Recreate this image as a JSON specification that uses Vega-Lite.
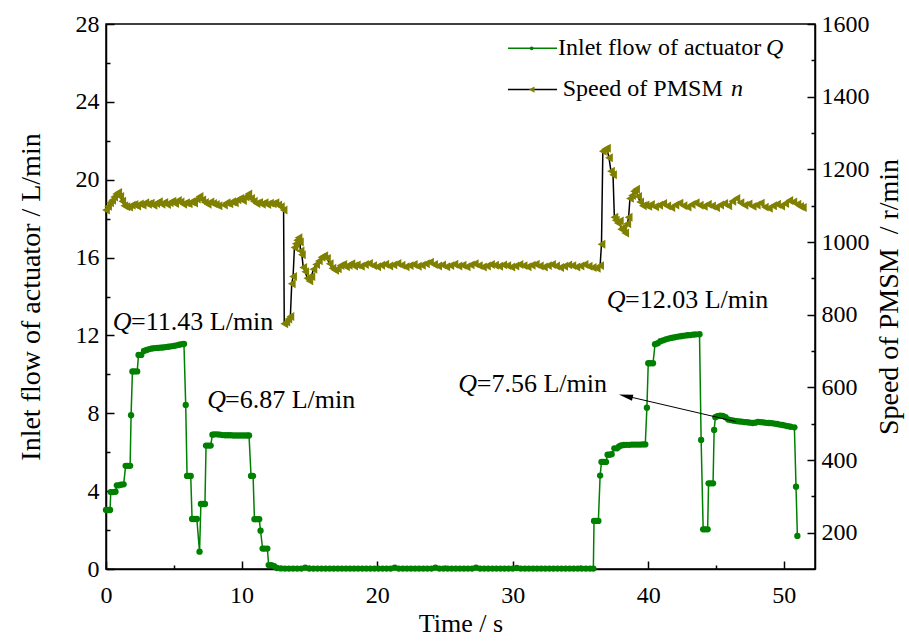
{
  "$schema": "https://vega.github.io/schema/vega-lite/v6.json",
  "width": 709,
  "height": 545,
  "autosize": {"type": "none"},
  "padding": {"left": 106, "top": 24, "right": 94, "bottom": 73},
  "background": "white",
  "config": {
    "view": {"stroke": "black", "strokeWidth": 1.5},
    "font": "Liberation Serif",
    "axis": {
      "grid": false,
      "domainColor": "black",
      "domainWidth": 1.5,
      "tickColor": "black",
      "tickWidth": 1.5,
      "labelFont": "Liberation Serif",
      "labelFontSize": 24,
      "labelColor": "black",
      "titleFont": "Liberation Serif",
      "titleFontSize": 28,
      "titleFontWeight": "normal",
      "titleColor": "black"
    }
  },
  "datasets": {
    "flow": [
      {"t": 0.0, "Q": 3.03}, {"t": 0.15, "Q": 3.03}, {"t": 0.3, "Q": 3.03},
      {"t": 0.35, "Q": 3.95}, {"t": 0.5, "Q": 3.95}, {"t": 0.7, "Q": 3.97},
      {"t": 0.8, "Q": 4.3}, {"t": 0.95, "Q": 4.3}, {"t": 1.1, "Q": 4.33}, {"t": 1.3, "Q": 4.35},
      {"t": 1.45, "Q": 5.3}, {"t": 1.6, "Q": 5.3}, {"t": 1.78, "Q": 5.3},
      {"t": 1.85, "Q": 7.9},
      {"t": 1.95, "Q": 10.15}, {"t": 2.1, "Q": 10.15}, {"t": 2.3, "Q": 10.15},
      {"t": 2.4, "Q": 11.0}, {"t": 2.6, "Q": 11.0}, {"t": 2.8, "Q": 11.2},
      {"t": 3.0, "Q": 11.25}, {"t": 3.2, "Q": 11.3}, {"t": 3.4, "Q": 11.33}, {"t": 3.6, "Q": 11.35},
      {"t": 3.8, "Q": 11.36}, {"t": 4.0, "Q": 11.37}, {"t": 4.2, "Q": 11.38}, {"t": 4.4, "Q": 11.4},
      {"t": 4.6, "Q": 11.42}, {"t": 4.8, "Q": 11.44}, {"t": 5.0, "Q": 11.46}, {"t": 5.2, "Q": 11.49},
      {"t": 5.4, "Q": 11.52}, {"t": 5.6, "Q": 11.55}, {"t": 5.75, "Q": 11.56},
      {"t": 5.88, "Q": 8.43},
      {"t": 5.98, "Q": 4.78}, {"t": 6.1, "Q": 4.78}, {"t": 6.25, "Q": 4.78},
      {"t": 6.35, "Q": 2.57}, {"t": 6.5, "Q": 2.57}, {"t": 6.7, "Q": 2.57},
      {"t": 6.9, "Q": 0.89},
      {"t": 7.0, "Q": 3.34}, {"t": 7.15, "Q": 3.34}, {"t": 7.3, "Q": 3.34},
      {"t": 7.38, "Q": 6.34}, {"t": 7.55, "Q": 6.34}, {"t": 7.72, "Q": 6.34},
      {"t": 7.85, "Q": 6.9}, {"t": 8.0, "Q": 6.92}, {"t": 8.2, "Q": 6.92}, {"t": 8.4, "Q": 6.9},
      {"t": 8.6, "Q": 6.88}, {"t": 8.8, "Q": 6.87}, {"t": 9.0, "Q": 6.87}, {"t": 9.2, "Q": 6.87},
      {"t": 9.4, "Q": 6.86}, {"t": 9.6, "Q": 6.86}, {"t": 9.8, "Q": 6.86}, {"t": 10.0, "Q": 6.86},
      {"t": 10.2, "Q": 6.86}, {"t": 10.4, "Q": 6.86}, {"t": 10.55, "Q": 6.86},
      {"t": 10.7, "Q": 4.78}, {"t": 10.85, "Q": 4.78},
      {"t": 10.95, "Q": 2.56}, {"t": 11.1, "Q": 2.56}, {"t": 11.3, "Q": 2.56},
      {"t": 11.4, "Q": 1.97},
      {"t": 11.55, "Q": 1.05}, {"t": 11.7, "Q": 1.05}, {"t": 11.9, "Q": 1.05},
      {"t": 12.0, "Q": 0.2}, {"t": 12.2, "Q": 0.2}, {"t": 12.4, "Q": 0.15},
      {"t": 12.6, "Q": 0.05}, {"t": 12.9, "Q": 0.03},
      {"t": 13.2, "Q": 0.02}, {"t": 13.5, "Q": 0.02}, {"t": 13.8, "Q": 0.02}, {"t": 14.1, "Q": 0.02},
      {"t": 14.4, "Q": 0.02}, {"t": 14.7, "Q": 0.07}, {"t": 15.0, "Q": 0.02}, {"t": 15.3, "Q": 0.02},
      {"t": 15.6, "Q": 0.02}, {"t": 15.9, "Q": 0.02}, {"t": 16.2, "Q": 0.02}, {"t": 16.5, "Q": 0.02},
      {"t": 16.8, "Q": 0.02}, {"t": 17.1, "Q": 0.02}, {"t": 17.4, "Q": 0.02}, {"t": 17.7, "Q": 0.02},
      {"t": 18.0, "Q": 0.02}, {"t": 18.3, "Q": 0.02}, {"t": 18.6, "Q": 0.02}, {"t": 18.9, "Q": 0.02},
      {"t": 19.2, "Q": 0.02}, {"t": 19.5, "Q": 0.02}, {"t": 19.8, "Q": 0.02}, {"t": 20.1, "Q": 0.02},
      {"t": 20.4, "Q": 0.02}, {"t": 20.7, "Q": 0.02}, {"t": 21.0, "Q": 0.02}, {"t": 21.3, "Q": 0.07},
      {"t": 21.6, "Q": 0.02}, {"t": 21.9, "Q": 0.02}, {"t": 22.2, "Q": 0.02}, {"t": 22.5, "Q": 0.02},
      {"t": 22.8, "Q": 0.02}, {"t": 23.1, "Q": 0.02}, {"t": 23.4, "Q": 0.02}, {"t": 23.7, "Q": 0.02},
      {"t": 24.0, "Q": 0.02}, {"t": 24.3, "Q": 0.07}, {"t": 24.6, "Q": 0.02}, {"t": 24.9, "Q": 0.02},
      {"t": 25.2, "Q": 0.02}, {"t": 25.5, "Q": 0.02}, {"t": 25.8, "Q": 0.02}, {"t": 26.1, "Q": 0.02},
      {"t": 26.4, "Q": 0.02}, {"t": 26.7, "Q": 0.02}, {"t": 27.0, "Q": 0.02}, {"t": 27.3, "Q": 0.07},
      {"t": 27.6, "Q": 0.02}, {"t": 27.9, "Q": 0.02}, {"t": 28.2, "Q": 0.02}, {"t": 28.5, "Q": 0.02},
      {"t": 28.8, "Q": 0.02}, {"t": 29.1, "Q": 0.02}, {"t": 29.4, "Q": 0.02}, {"t": 29.7, "Q": 0.02},
      {"t": 30.0, "Q": 0.02}, {"t": 30.3, "Q": 0.05}, {"t": 30.6, "Q": 0.02}, {"t": 30.9, "Q": 0.02},
      {"t": 31.2, "Q": 0.02}, {"t": 31.5, "Q": 0.02}, {"t": 31.8, "Q": 0.02}, {"t": 32.1, "Q": 0.02},
      {"t": 32.4, "Q": 0.02}, {"t": 32.7, "Q": 0.02}, {"t": 33.0, "Q": 0.02}, {"t": 33.3, "Q": 0.02},
      {"t": 33.6, "Q": 0.02}, {"t": 33.9, "Q": 0.02}, {"t": 34.2, "Q": 0.02}, {"t": 34.5, "Q": 0.02},
      {"t": 34.8, "Q": 0.02}, {"t": 35.1, "Q": 0.02}, {"t": 35.4, "Q": 0.02}, {"t": 35.7, "Q": 0.02},
      {"t": 35.95, "Q": 0.02},
      {"t": 36.0, "Q": 2.47}, {"t": 36.15, "Q": 2.47}, {"t": 36.32, "Q": 2.47},
      {"t": 36.45, "Q": 4.8},
      {"t": 36.55, "Q": 5.5}, {"t": 36.7, "Q": 5.5}, {"t": 36.88, "Q": 5.5},
      {"t": 37.0, "Q": 5.87}, {"t": 37.15, "Q": 5.87}, {"t": 37.3, "Q": 5.9},
      {"t": 37.5, "Q": 6.2}, {"t": 37.7, "Q": 6.2}, {"t": 37.85, "Q": 6.3},
      {"t": 38.0, "Q": 6.35}, {"t": 38.2, "Q": 6.37}, {"t": 38.4, "Q": 6.38}, {"t": 38.6, "Q": 6.38},
      {"t": 38.8, "Q": 6.39}, {"t": 39.0, "Q": 6.39}, {"t": 39.2, "Q": 6.39}, {"t": 39.4, "Q": 6.39},
      {"t": 39.6, "Q": 6.4}, {"t": 39.78, "Q": 6.4},
      {"t": 39.9, "Q": 8.29},
      {"t": 40.0, "Q": 10.57}, {"t": 40.15, "Q": 10.57}, {"t": 40.35, "Q": 10.57},
      {"t": 40.5, "Q": 11.55}, {"t": 40.7, "Q": 11.6}, {"t": 40.9, "Q": 11.7}, {"t": 41.1, "Q": 11.75},
      {"t": 41.3, "Q": 11.8}, {"t": 41.5, "Q": 11.84}, {"t": 41.7, "Q": 11.87}, {"t": 41.9, "Q": 11.9},
      {"t": 42.1, "Q": 11.93}, {"t": 42.3, "Q": 11.95}, {"t": 42.5, "Q": 11.97}, {"t": 42.7, "Q": 11.99},
      {"t": 42.9, "Q": 12.01}, {"t": 43.1, "Q": 12.02}, {"t": 43.3, "Q": 12.04}, {"t": 43.5, "Q": 12.05},
      {"t": 43.78, "Q": 12.06},
      {"t": 43.9, "Q": 6.63},
      {"t": 44.05, "Q": 2.04}, {"t": 44.2, "Q": 2.04}, {"t": 44.38, "Q": 2.04},
      {"t": 44.45, "Q": 4.4}, {"t": 44.6, "Q": 4.4}, {"t": 44.78, "Q": 4.4},
      {"t": 44.86, "Q": 7.14},
      {"t": 44.95, "Q": 7.8}, {"t": 45.1, "Q": 7.85}, {"t": 45.3, "Q": 7.88}, {"t": 45.5, "Q": 7.86},
      {"t": 45.7, "Q": 7.8}, {"t": 45.9, "Q": 7.68}, {"t": 46.1, "Q": 7.65}, {"t": 46.3, "Q": 7.62},
      {"t": 46.5, "Q": 7.6}, {"t": 46.7, "Q": 7.58}, {"t": 46.9, "Q": 7.57}, {"t": 47.1, "Q": 7.55},
      {"t": 47.3, "Q": 7.54}, {"t": 47.5, "Q": 7.52}, {"t": 47.7, "Q": 7.5}, {"t": 47.9, "Q": 7.52},
      {"t": 48.1, "Q": 7.56}, {"t": 48.3, "Q": 7.55}, {"t": 48.5, "Q": 7.53}, {"t": 48.7, "Q": 7.51},
      {"t": 48.9, "Q": 7.5}, {"t": 49.1, "Q": 7.49}, {"t": 49.3, "Q": 7.47}, {"t": 49.5, "Q": 7.45},
      {"t": 49.7, "Q": 7.42}, {"t": 49.9, "Q": 7.4}, {"t": 50.1, "Q": 7.37}, {"t": 50.3, "Q": 7.34},
      {"t": 50.5, "Q": 7.31}, {"t": 50.78, "Q": 7.28},
      {"t": 50.9, "Q": 4.23}, {"t": 51.0, "Q": 1.7}
    ],
    "speed": [
      {"t": 0.0, "n": 1088}, {"t": 0.15, "n": 1098}, {"t": 0.3, "n": 1108}, {"t": 0.45, "n": 1115},
      {"t": 0.6, "n": 1124}, {"t": 0.75, "n": 1132}, {"t": 0.9, "n": 1136}, {"t": 1.05, "n": 1125},
      {"t": 1.2, "n": 1112}, {"t": 1.35, "n": 1100}, {"t": 1.5, "n": 1097}, {"t": 1.7, "n": 1096},
      {"t": 1.9, "n": 1101}, {"t": 2.1, "n": 1103}, {"t": 2.3, "n": 1099}, {"t": 2.5, "n": 1105},
      {"t": 2.7, "n": 1102}, {"t": 2.9, "n": 1108}, {"t": 3.1, "n": 1104}, {"t": 3.3, "n": 1107},
      {"t": 3.5, "n": 1101}, {"t": 3.7, "n": 1106}, {"t": 3.9, "n": 1111}, {"t": 4.1, "n": 1104},
      {"t": 4.3, "n": 1109}, {"t": 4.5, "n": 1103}, {"t": 4.7, "n": 1108}, {"t": 4.9, "n": 1112},
      {"t": 5.1, "n": 1106}, {"t": 5.3, "n": 1114}, {"t": 5.5, "n": 1110}, {"t": 5.7, "n": 1104},
      {"t": 5.9, "n": 1108}, {"t": 6.1, "n": 1105}, {"t": 6.3, "n": 1111}, {"t": 6.5, "n": 1107},
      {"t": 6.7, "n": 1118}, {"t": 6.9, "n": 1125}, {"t": 7.1, "n": 1116}, {"t": 7.3, "n": 1109},
      {"t": 7.5, "n": 1104}, {"t": 7.7, "n": 1110}, {"t": 7.9, "n": 1106}, {"t": 8.1, "n": 1103},
      {"t": 8.3, "n": 1100}, {"t": 8.7, "n": 1102}, {"t": 8.9, "n": 1108}, {"t": 9.1, "n": 1105},
      {"t": 9.3, "n": 1111}, {"t": 9.5, "n": 1108}, {"t": 9.7, "n": 1116}, {"t": 9.9, "n": 1120},
      {"t": 10.1, "n": 1114}, {"t": 10.3, "n": 1124}, {"t": 10.5, "n": 1132}, {"t": 10.7, "n": 1120},
      {"t": 10.9, "n": 1112}, {"t": 11.1, "n": 1106}, {"t": 11.3, "n": 1109}, {"t": 11.5, "n": 1104},
      {"t": 11.7, "n": 1108}, {"t": 11.9, "n": 1103}, {"t": 12.1, "n": 1107}, {"t": 12.3, "n": 1105},
      {"t": 12.5, "n": 1108}, {"t": 12.7, "n": 1102}, {"t": 12.9, "n": 1097}, {"t": 13.1, "n": 1088},
      {"t": 13.15, "n": 775}, {"t": 13.3, "n": 780}, {"t": 13.45, "n": 788}, {"t": 13.6, "n": 795},
      {"t": 13.7, "n": 885}, {"t": 13.8, "n": 905}, {"t": 13.9, "n": 985}, {"t": 14.0, "n": 995},
      {"t": 14.1, "n": 1005}, {"t": 14.2, "n": 1012}, {"t": 14.3, "n": 1000}, {"t": 14.35, "n": 975},
      {"t": 14.45, "n": 965}, {"t": 14.55, "n": 930}, {"t": 14.7, "n": 918}, {"t": 14.85, "n": 900},
      {"t": 15.0, "n": 893}, {"t": 15.15, "n": 905}, {"t": 15.3, "n": 925}, {"t": 15.5, "n": 938},
      {"t": 15.7, "n": 948}, {"t": 15.9, "n": 958}, {"t": 16.1, "n": 962}, {"t": 16.3, "n": 955},
      {"t": 16.5, "n": 940}, {"t": 16.7, "n": 928}, {"t": 16.9, "n": 922}, {"t": 17.1, "n": 926},
      {"t": 17.3, "n": 935}, {"t": 17.5, "n": 938}, {"t": 17.7, "n": 932}, {"t": 17.9, "n": 936},
      {"t": 18.1, "n": 940}, {"t": 18.3, "n": 934}, {"t": 18.5, "n": 937}, {"t": 18.8, "n": 933},
      {"t": 19.1, "n": 938}, {"t": 19.4, "n": 941}, {"t": 19.7, "n": 935}, {"t": 20.0, "n": 932},
      {"t": 20.3, "n": 936}, {"t": 20.6, "n": 939}, {"t": 20.9, "n": 934}, {"t": 21.2, "n": 937},
      {"t": 21.5, "n": 941}, {"t": 21.8, "n": 936}, {"t": 22.1, "n": 932}, {"t": 22.4, "n": 935},
      {"t": 22.7, "n": 938}, {"t": 23.0, "n": 933}, {"t": 23.3, "n": 936}, {"t": 23.6, "n": 940},
      {"t": 23.9, "n": 944}, {"t": 24.2, "n": 938}, {"t": 24.5, "n": 934}, {"t": 24.8, "n": 937},
      {"t": 25.1, "n": 932}, {"t": 25.4, "n": 935}, {"t": 25.7, "n": 939}, {"t": 26.0, "n": 934},
      {"t": 26.3, "n": 936}, {"t": 26.6, "n": 932}, {"t": 26.9, "n": 937}, {"t": 27.2, "n": 940},
      {"t": 27.5, "n": 935}, {"t": 27.8, "n": 931}, {"t": 28.1, "n": 934}, {"t": 28.4, "n": 938},
      {"t": 28.7, "n": 936}, {"t": 29.0, "n": 933}, {"t": 29.3, "n": 937}, {"t": 29.6, "n": 935},
      {"t": 29.9, "n": 931}, {"t": 30.2, "n": 934}, {"t": 30.5, "n": 938}, {"t": 30.8, "n": 935},
      {"t": 31.1, "n": 932}, {"t": 31.4, "n": 936}, {"t": 31.7, "n": 939}, {"t": 32.0, "n": 934},
      {"t": 32.3, "n": 931}, {"t": 32.6, "n": 935}, {"t": 32.9, "n": 938}, {"t": 33.2, "n": 934},
      {"t": 33.5, "n": 930}, {"t": 33.8, "n": 933}, {"t": 34.1, "n": 937}, {"t": 34.4, "n": 935},
      {"t": 34.7, "n": 931}, {"t": 35.0, "n": 934}, {"t": 35.3, "n": 938}, {"t": 35.6, "n": 933},
      {"t": 35.9, "n": 930}, {"t": 36.2, "n": 928}, {"t": 36.45, "n": 935},
      {"t": 36.55, "n": 994}, {"t": 36.65, "n": 1250}, {"t": 36.8, "n": 1255}, {"t": 36.95, "n": 1258},
      {"t": 37.1, "n": 1232}, {"t": 37.25, "n": 1195}, {"t": 37.4, "n": 1185}, {"t": 37.5, "n": 1068},
      {"t": 37.6, "n": 1060}, {"t": 37.75, "n": 1052}, {"t": 37.9, "n": 1058}, {"t": 38.0, "n": 1035},
      {"t": 38.15, "n": 1040}, {"t": 38.3, "n": 1025}, {"t": 38.45, "n": 1050}, {"t": 38.55, "n": 1068},
      {"t": 38.65, "n": 1120}, {"t": 38.8, "n": 1128}, {"t": 38.95, "n": 1140}, {"t": 39.1, "n": 1145},
      {"t": 39.25, "n": 1125}, {"t": 39.4, "n": 1110}, {"t": 39.6, "n": 1100}, {"t": 39.8, "n": 1102},
      {"t": 40.0, "n": 1098}, {"t": 40.2, "n": 1103}, {"t": 40.5, "n": 1097}, {"t": 40.8, "n": 1101},
      {"t": 41.1, "n": 1106}, {"t": 41.4, "n": 1099}, {"t": 41.7, "n": 1095}, {"t": 42.0, "n": 1102},
      {"t": 42.3, "n": 1107}, {"t": 42.6, "n": 1100}, {"t": 42.9, "n": 1096}, {"t": 43.2, "n": 1103},
      {"t": 43.5, "n": 1108}, {"t": 43.8, "n": 1101}, {"t": 44.1, "n": 1098}, {"t": 44.4, "n": 1104},
      {"t": 44.7, "n": 1099}, {"t": 45.0, "n": 1095}, {"t": 45.3, "n": 1102}, {"t": 45.6, "n": 1106},
      {"t": 45.9, "n": 1100}, {"t": 46.2, "n": 1112}, {"t": 46.5, "n": 1120}, {"t": 46.8, "n": 1108},
      {"t": 47.1, "n": 1101}, {"t": 47.4, "n": 1105}, {"t": 47.7, "n": 1098}, {"t": 48.0, "n": 1102},
      {"t": 48.3, "n": 1107}, {"t": 48.6, "n": 1096}, {"t": 48.9, "n": 1093}, {"t": 49.2, "n": 1100},
      {"t": 49.5, "n": 1104}, {"t": 49.8, "n": 1099}, {"t": 50.1, "n": 1106}, {"t": 50.4, "n": 1114},
      {"t": 50.7, "n": 1110}, {"t": 51.0, "n": 1104}, {"t": 51.2, "n": 1098}, {"t": 51.4, "n": 1095}
    ],
    "notes": [
      {"tq": 0.49, "t": 1.85, "Q": 12.28, "label": "=11.43 L/min"},
      {"tq": 7.47, "t": 8.78, "Q": 8.26, "label": "=6.87 L/min"},
      {"tq": 36.94, "t": 38.29, "Q": 13.39, "label": "=12.03 L/min"},
      {"tq": 25.99, "t": 27.35, "Q": 9.11, "label": "=7.56 L/min"}
    ],
    "legend": [
      {"series": "flow", "t": 29.65, "t2": 33.27, "tm": 31.4, "Q": 26.75, "Qtext": 26.4, "ttext": 33.34, "titalic": 48.69, "label": "Inlet flow of actuator", "sym": "Q"},
      {"series": "speed", "t": 29.65, "t2": 33.27, "tm": 31.4, "Q": 24.63, "Qtext": 24.28, "ttext": 33.69, "titalic": 46.1, "label": "Speed of PMSM", "sym": "n"}
    ],
    "arrow": [
      {"t": 46.47, "Q": 7.57, "t2": 38.6, "Q2": 8.85, "th": 38.34, "Qh": 8.88}
    ]
  },
  "encoding": {
    "x": {
      "field": "t",
      "type": "quantitative",
      "scale": {"domain": [0, 52.3], "nice": false, "zero": false},
      "axis": {
        "title": "Time / s",
        "titleFontSize": 26,
        "values": [0, 5, 10, 15, 20, 25, 30, 35, 40, 45, 50],
        "labelExpr": "datum.value % 10 == 0 ? datum.label : ''",
        "tickSize": {"condition": {"test": "datum.value % 10 == 0", "value": -8}, "value": -4},
        "labelPadding": 22,
        "labelFlush": false,
        "titlePadding": 3
      }
    }
  },
  "layer": [
    {
      "encoding": {
        "y": {
          "field": "Q",
          "type": "quantitative",
          "scale": {"domain": [0, 28], "nice": false, "zero": false},
          "axis": {
            "title": "Inlet flow of actuator / L/min",
            "values": [0, 2, 4, 6, 8, 10, 12, 14, 16, 18, 20, 22, 24, 26, 28],
            "labelExpr": "datum.value % 4 == 0 ? datum.label : ''",
            "tickSize": {"condition": {"test": "datum.value % 4 == 0", "value": -8}, "value": -4},
            "labelPadding": 15,
            "labelFlush": false,
            "titlePadding": 30
          }
        }
      },
      "layer": [
        {
          "data": {"name": "flow"},
          "mark": {"type": "line", "color": "#008000", "strokeWidth": 1.5},
          "encoding": {}
        },
        {
          "data": {"name": "flow"},
          "mark": {"type": "point", "shape": "circle", "filled": true, "color": "#008000", "size": 40, "opacity": 1},
          "encoding": {}
        },
        {
          "data": {"name": "notes"},
          "mark": {"type": "text", "align": "left", "baseline": "alphabetic", "fontSize": 26, "fontStyle": "italic", "color": "black"},
          "encoding": {"x": {"field": "tq", "type": "quantitative"}, "text": {"value": "Q"}}
        },
        {
          "data": {"name": "notes"},
          "mark": {"type": "text", "align": "left", "baseline": "alphabetic", "fontSize": 26, "color": "black"},
          "encoding": {"text": {"field": "label"}}
        },
        {
          "data": {"name": "arrow"},
          "mark": {"type": "rule", "color": "black", "strokeWidth": 1},
          "encoding": {"x2": {"field": "t2"}, "y2": {"field": "Q2"}}
        },
        {
          "data": {"name": "arrow"},
          "mark": {"type": "point", "shape": "M-1,0L1,-0.42L1,0.42Z", "filled": true, "color": "black", "size": 200, "opacity": 1, "angle": 12.9},
          "encoding": {"x": {"field": "th", "type": "quantitative"}, "y": {"field": "Qh", "type": "quantitative"}}
        },
        {
          "data": {"name": "legend"},
          "transform": [{"filter": "datum.series == 'flow'"}],
          "mark": {"type": "rule", "color": "#008000", "strokeWidth": 1.5},
          "encoding": {"x2": {"field": "t2"}, "y2": {"field": "Q"}}
        },
        {
          "data": {"name": "legend"},
          "transform": [{"filter": "datum.series == 'speed'"}],
          "mark": {"type": "rule", "color": "black", "strokeWidth": 1.5},
          "encoding": {"x2": {"field": "t2"}, "y2": {"field": "Q"}}
        },
        {
          "data": {"name": "legend"},
          "transform": [{"filter": "datum.series == 'flow'"}],
          "mark": {"type": "point", "shape": "circle", "filled": true, "color": "#008000", "size": 14, "opacity": 1},
          "encoding": {"x": {"field": "tm", "type": "quantitative"}}
        },
        {
          "data": {"name": "legend"},
          "transform": [{"filter": "datum.series == 'speed'"}],
          "mark": {"type": "point", "shape": "triangle-left", "filled": true, "color": "#808000", "size": 40, "opacity": 1},
          "encoding": {"x": {"field": "tm", "type": "quantitative"}}
        },
        {
          "data": {"name": "legend"},
          "mark": {"type": "text", "align": "left", "baseline": "alphabetic", "fontSize": 24, "color": "black"},
          "encoding": {"x": {"field": "ttext", "type": "quantitative"}, "y": {"field": "Qtext", "type": "quantitative"}, "text": {"field": "label"}}
        },
        {
          "data": {"name": "legend"},
          "mark": {"type": "text", "align": "left", "baseline": "alphabetic", "fontSize": 24, "fontStyle": "italic", "color": "black"},
          "encoding": {"x": {"field": "titalic", "type": "quantitative"}, "y": {"field": "Qtext", "type": "quantitative"}, "text": {"field": "sym"}}
        }
      ]
    },
    {
      "data": {"name": "speed"},
      "encoding": {
        "y": {
          "field": "n",
          "type": "quantitative",
          "scale": {"domain": [100, 1600], "nice": false, "zero": false},
          "axis": {
            "orient": "right",
            "title": "Speed of PMSM\u00a0 / r/min",
            "titleAngle": 270,
            "titleBaseline": "top",
            "format": "d",
            "values": [200, 300, 400, 500, 600, 700, 800, 900, 1000, 1100, 1200, 1300, 1400, 1500, 1600],
            "labelExpr": "datum.value % 200 == 0 ? datum.label : ''",
            "tickSize": {"condition": {"test": "datum.value % 200 == 0", "value": -8}, "value": -4},
            "labelPadding": 14,
            "labelFlush": false,
            "titlePadding": 6
          }
        }
      },
      "layer": [
        {"mark": {"type": "line", "color": "black", "strokeWidth": 1.5}, "encoding": {}},
        {"mark": {"type": "point", "shape": "triangle-left", "filled": true, "color": "#808000", "size": 80, "opacity": 1}, "encoding": {}}
      ]
    }
  ],
  "resolve": {"scale": {"y": "independent"}}
}
